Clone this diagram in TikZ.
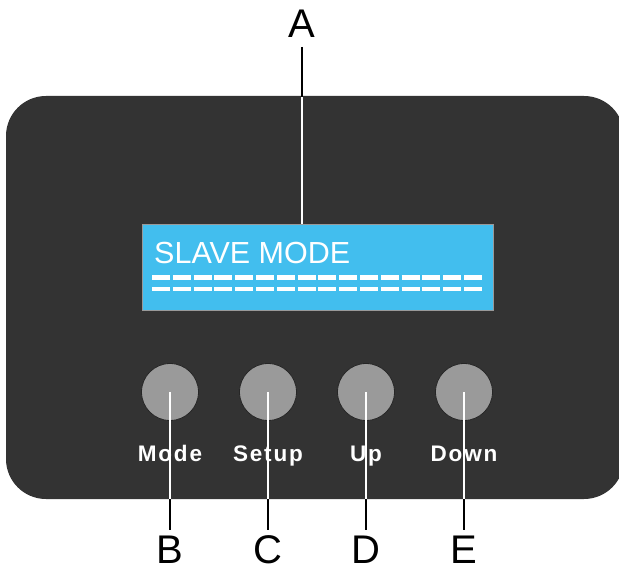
\documentclass[tikz,border=0pt]{standalone}
\usepackage{fontspec}
\setmainfont{Liberation Sans}
\newfontfamily\btnfont[LetterSpace=8]{Liberation Sans}
\definecolor{panel}{HTML}{333333}
\definecolor{lcd}{HTML}{42BEEE}
\definecolor{btn}{HTML}{9A9A9A}
\begin{document}
\begin{tikzpicture}[x=1pt,y=-1pt,
  callout/.style={font=\fontsize{40}{40}\selectfont, text=black, inner sep=0pt, anchor=base},
  btnlabel/.style={font=\btnfont\bfseries\fontsize{22.5}{22.5}\selectfont, text=white, inner sep=0pt, anchor=base},
  button/.style={circle, fill=btn, draw=black!85, line width=0.8pt, minimum size=57pt, inner sep=0pt},
  leader/.style={line width=2pt},
  dashrow/.style={white, line width=4.5pt, dash pattern=on 18pt off 2.8pt}]
\useasboundingbox (0,0) rectangle (619,572);
% panel
\fill[panel, rounded corners=40pt] (6,96) rectangle (624,499);
% LCD
\node[draw=black!40, line width=0.6pt, fill=lcd, minimum width=351pt, minimum height=86pt, inner sep=0pt, anchor=north west] (lcd) at (142,224) {};
\node[font=\fontsize{30.5}{30.5}\selectfont, text=white, inner sep=0pt, anchor=base west] (slave) at (154,264) {SLAVE MODE};
\draw[dashrow] (152,277.5) -- (482,277.5);
\draw[dashrow] (152,289) -- (482,289);
% callout A
\node[callout] (A) at (302,38) {A};
\coordinate (Atop) at (302,47);
\coordinate (Amid) at (302,97);
\draw[leader, black] (Atop) -- (Amid);
\draw[leader, white] (Amid) -- (lcd.north -| Amid);
% buttons
\foreach \n/\x/\lab/\L in {m/170/Mode/B, s/268/Setup/C, u/366/Up/D, d/464/Down/E}{
  \node[button] (b\n) at (\x,392) {};
  \node[btnlabel] (t\n) at (\x,461) {\lab};
  \coordinate (e\n) at (\x,499);
  \coordinate (f\n) at (\x,530);
  \draw[leader, white] (b\n.center) -- (e\n);
  \draw[leader, black] (e\n) -- (f\n);
  \node[callout] (\L) at (\x,563) {\L};
}
\end{tikzpicture}
\end{document}
